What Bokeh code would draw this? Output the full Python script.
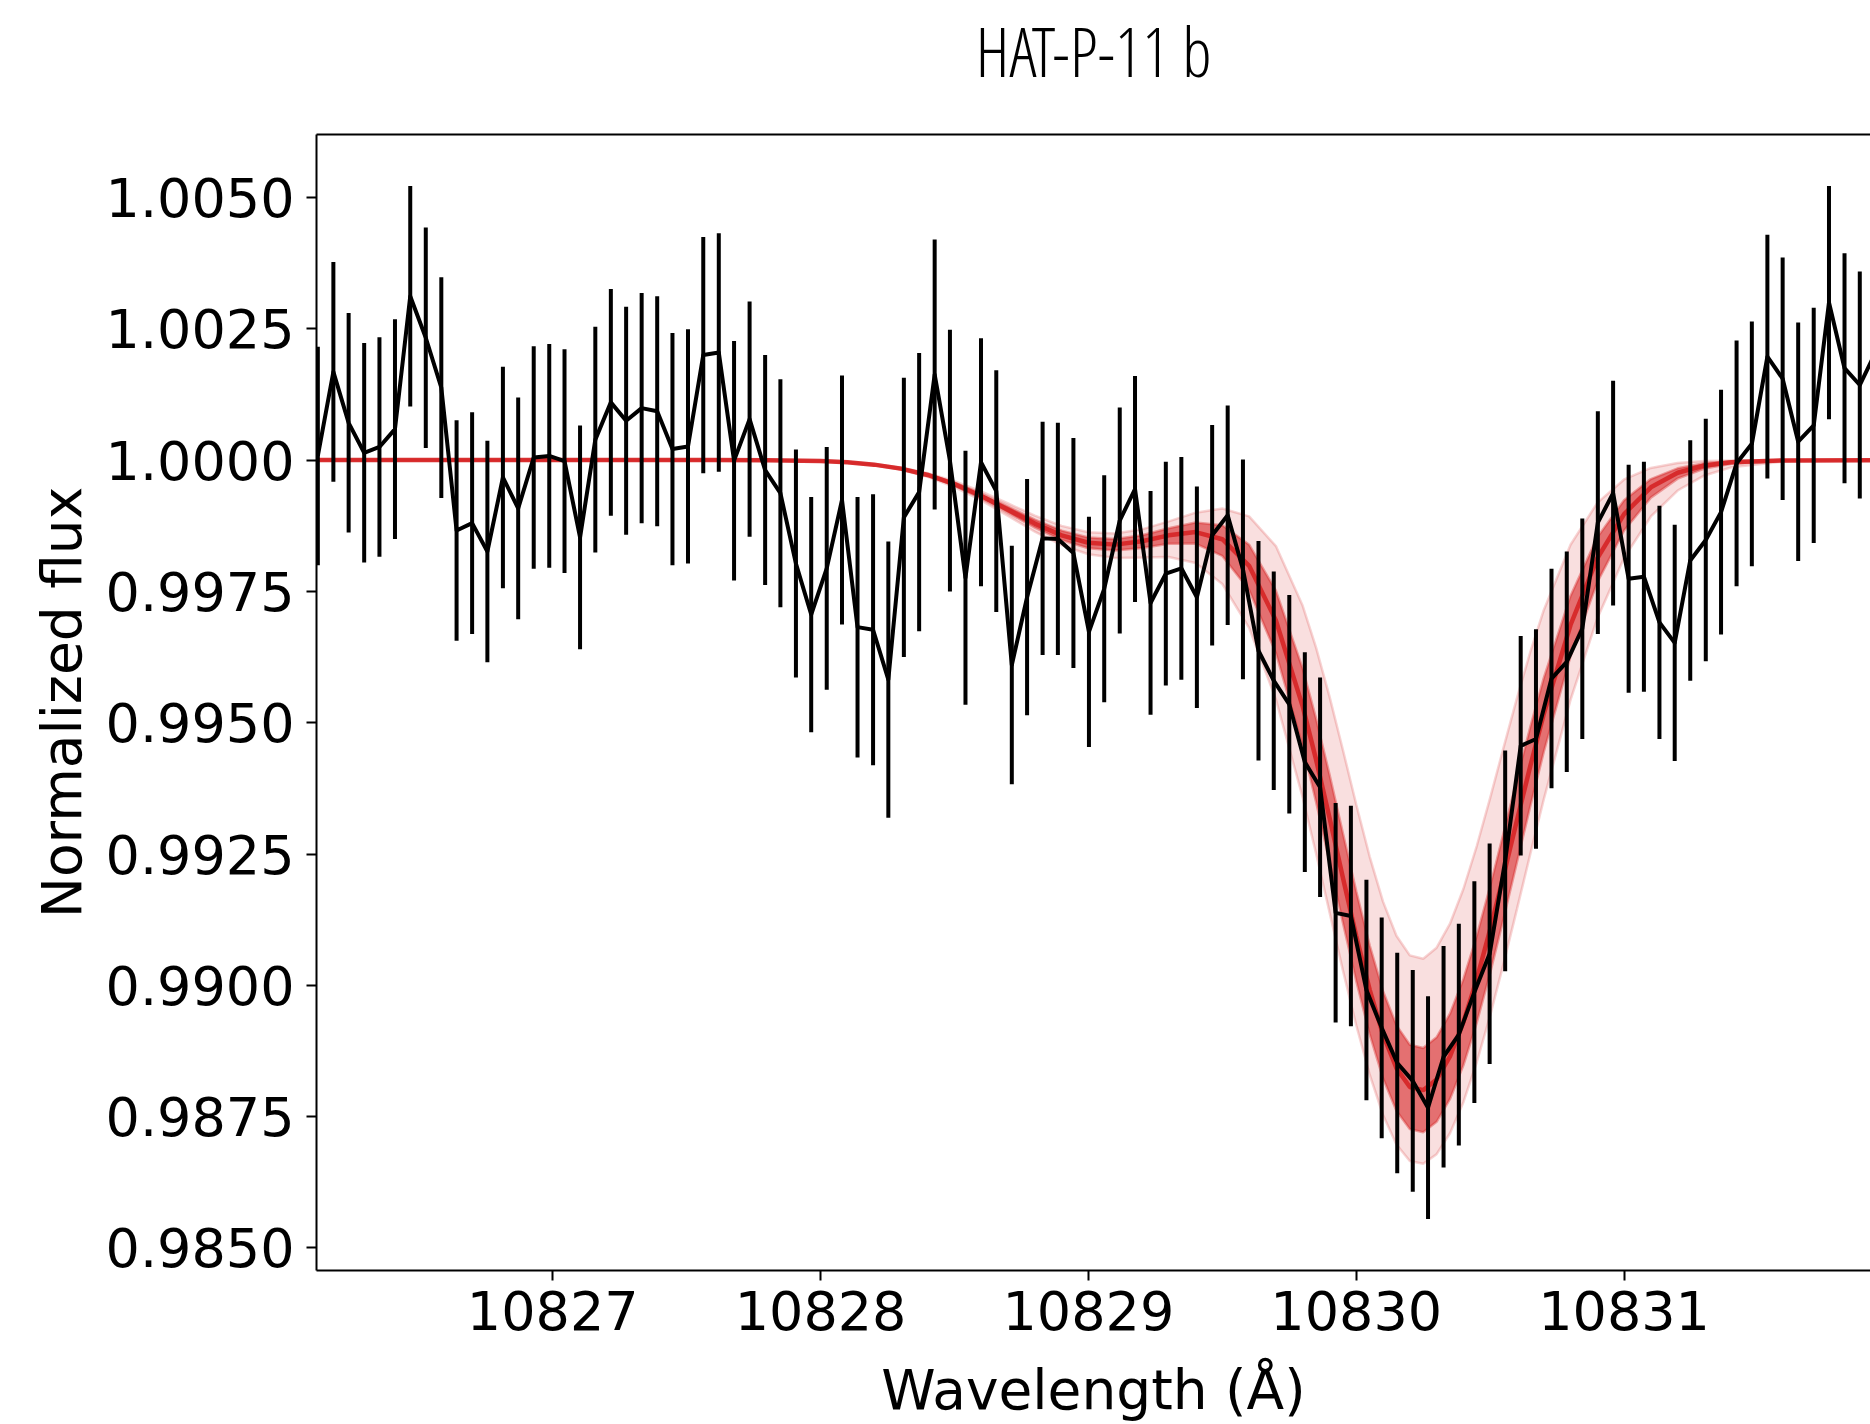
from bokeh.plotting import figure
from bokeh.models import ColumnDataSource, FixedTicker, PrintfTickFormatter, LinearAxis, Range1d
from bokeh.embed import file_html
from bokeh.resources import INLINE

# ---------------- data ----------------
wavelength = [
    10826.123, 10826.181, 10826.238, 10826.296, 10826.353, 10826.411, 10826.468, 10826.526, 10826.584, 10826.641,
    10826.699, 10826.756, 10826.814, 10826.871, 10826.929, 10826.987, 10827.044, 10827.102, 10827.159, 10827.217,
    10827.274, 10827.332, 10827.390, 10827.447, 10827.505, 10827.562, 10827.620, 10827.677, 10827.735, 10827.793,
    10827.850, 10827.908, 10827.965, 10828.023, 10828.080, 10828.138, 10828.196, 10828.253, 10828.311, 10828.368,
    10828.426, 10828.483, 10828.541, 10828.599, 10828.656, 10828.714, 10828.771, 10828.829, 10828.886, 10828.944,
    10829.002, 10829.059, 10829.117, 10829.174, 10829.232, 10829.289, 10829.347, 10829.405, 10829.462, 10829.520,
    10829.577, 10829.635, 10829.692, 10829.750, 10829.808, 10829.865, 10829.923, 10829.980, 10830.038, 10830.095,
    10830.153, 10830.211, 10830.268, 10830.326, 10830.383, 10830.441, 10830.498, 10830.556, 10830.614, 10830.671,
    10830.729, 10830.786, 10830.844, 10830.902, 10830.959, 10831.017, 10831.074, 10831.132, 10831.189, 10831.247,
    10831.305, 10831.362, 10831.420, 10831.477, 10831.535, 10831.592, 10831.650, 10831.708, 10831.765, 10831.823,
    10831.880, 10831.938,
]
flux = [
    1.00008, 1.00168, 1.00071, 1.00014, 1.00025, 1.00059, 1.00312, 1.00233, 1.00138, 0.99866,
    0.99880, 0.99826, 0.99967, 0.99908, 1.00005, 1.00008, 0.99998, 0.99853, 1.00039, 1.00110,
    1.00075, 1.00099, 1.00093, 1.00021, 1.00026, 1.00200, 1.00205, 0.99999, 1.00078, 0.99981,
    0.99937, 0.99803, 0.99706, 0.99794, 0.99924, 0.99682, 0.99677, 0.99582, 0.99891, 0.99939,
    1.00163, 0.99999, 0.99776, 0.99996, 0.99941, 0.99610, 0.99739, 0.99851, 0.99850, 0.99823,
    0.99673, 0.99755, 0.99885, 0.99945, 0.99728, 0.99784, 0.99794, 0.99739, 0.99857, 0.99895,
    0.99792, 0.99637, 0.99580, 0.99535, 0.99425, 0.99377, 0.99138, 0.99132, 0.98991, 0.98919,
    0.98852, 0.98818, 0.98767, 0.98864, 0.98906, 0.98987, 0.99060, 0.99237, 0.99456, 0.99469,
    0.99584, 0.99616, 0.99679, 0.99881, 0.99937, 0.99774, 0.99778, 0.99691, 0.99652, 0.99809,
    0.99848, 0.99901, 0.99994, 1.00031, 1.00197, 1.00155, 1.00035, 1.00066, 1.00300, 1.00175,
    1.00143, 1.00204,
]
flux_err = [
    0.00208, 0.00209, 0.00209, 0.00209, 0.00209, 0.00209, 0.00210, 0.00210, 0.00210, 0.00210,
    0.00211, 0.00211, 0.00211, 0.00211, 0.00212, 0.00213, 0.00213, 0.00213, 0.00215, 0.00216,
    0.00217, 0.00219, 0.00219, 0.00221, 0.00223, 0.00225, 0.00227, 0.00228, 0.00224, 0.00219,
    0.00217, 0.00217, 0.00224, 0.00231, 0.00237, 0.00248, 0.00258, 0.00263, 0.00266, 0.00265,
    0.00257, 0.00249, 0.00242, 0.00236, 0.00230, 0.00227, 0.00225, 0.00222, 0.00221, 0.00219,
    0.00219, 0.00216, 0.00215, 0.00215, 0.00213, 0.00213, 0.00212, 0.00211, 0.00210, 0.00209,
    0.00209, 0.00209, 0.00208, 0.00208, 0.00209, 0.00209, 0.00209, 0.00210, 0.00210, 0.00210,
    0.00210, 0.00211, 0.00212, 0.00211, 0.00211, 0.00211, 0.00210, 0.00210, 0.00209, 0.00209,
    0.00209, 0.00210, 0.00210, 0.00212, 0.00214, 0.00217, 0.00219, 0.00222, 0.00225, 0.00229,
    0.00231, 0.00233, 0.00234, 0.00233, 0.00232, 0.00231, 0.00227, 0.00224, 0.00222, 0.00219,
    0.00216, 0.00214,
]

# model band (posterior samples), read as median / inner / outer envelopes
model_wavelength = [
    10826.10, 10827.60, 10827.80, 10828.00, 10828.10, 10828.20, 10828.30, 10828.40, 10828.50, 10828.60,
    10828.70, 10828.80, 10828.90, 10829.00, 10829.10, 10829.20, 10829.30, 10829.40, 10829.50, 10829.60,
    10829.70, 10829.80, 10829.85, 10829.90, 10829.95, 10830.00, 10830.05, 10830.10, 10830.15, 10830.20,
    10830.25, 10830.30, 10830.35, 10830.40, 10830.45, 10830.50, 10830.55, 10830.60, 10830.65, 10830.70,
    10830.80, 10830.90, 10831.00, 10831.10, 10831.20, 10831.30, 10831.40, 10831.60, 10831.95,
]
model_median = [
    1.0, 1.0, 0.999997, 0.999981, 0.999958, 0.999914, 0.999838, 0.999717, 0.999543, 0.999318,
    0.999056, 0.998792, 0.998568, 0.998426, 0.998391, 0.998455, 0.998568, 0.998630, 0.998494, 0.997987,
    0.996947, 0.995311, 0.994297, 0.993195, 0.992055, 0.990939, 0.989918, 0.989059, 0.988424, 0.988064,
    0.988004, 0.988206, 0.988648, 0.989297, 0.990118, 0.991066, 0.992091, 0.993143, 0.994179, 0.995162,
    0.996861, 0.998128, 0.998973, 0.999482, 0.999760, 0.999898, 0.999960, 0.999995, 1.0,
]
model_outer_hi = [
    1.0, 1.0, 0.999997, 0.999983, 0.999963, 0.999925, 0.999858, 0.999752, 0.999600, 0.999403,
    0.999174, 0.998943, 0.998748, 0.998626, 0.998604, 0.998682, 0.998834, 0.999000, 0.999080, 0.998929,
    0.998363, 0.997226, 0.996429, 0.995502, 0.994486, 0.993444, 0.992452, 0.991593, 0.990943, 0.990570,
    0.990506, 0.990716, 0.991173, 0.991834, 0.992652, 0.993569, 0.994526, 0.995468, 0.996351, 0.997142,
    0.998388, 0.999186, 0.999632, 0.999851, 0.999946, 0.999983, 0.999995, 1.0, 1.0,
]
model_outer_lo = [
    1.0, 1.0, 0.999996, 0.999978, 0.999952, 0.999903, 0.999817, 0.999682, 0.999486, 0.999233,
    0.998937, 0.998638, 0.998381, 0.998207, 0.998137, 0.998145, 0.998154, 0.998040, 0.997641, 0.996806,
    0.995445, 0.993578, 0.992510, 0.991398, 0.990289, 0.989239, 0.988302, 0.987531, 0.986968, 0.986654,
    0.986602, 0.986785, 0.987184, 0.987775, 0.988535, 0.989426, 0.990412, 0.991451, 0.992504, 0.993539,
    0.995435, 0.996985, 0.998139, 0.998927, 0.999421, 0.999708, 0.999862, 0.999975, 0.999999,
]
model_inner_hi = [
    1.0, 1.0, 0.999997, 0.999982, 0.999960, 0.999919, 0.999848, 0.999735, 0.999572, 0.999361,
    0.999115, 0.998868, 0.998658, 0.998526, 0.998499, 0.998571, 0.998703, 0.998811, 0.998762, 0.998389,
    0.997513, 0.996031, 0.995077, 0.994016, 0.992899, 0.991791, 0.990761, 0.989888, 0.989238, 0.988867,
    0.988805, 0.989011, 0.989460, 0.990116, 0.990941, 0.991887, 0.992898, 0.993925, 0.994921, 0.995849,
    0.997414, 0.998529, 0.999237, 0.999639, 0.999844, 0.999939, 0.999978, 0.999998, 1.0,
]
model_inner_lo = [
    1.0, 1.0, 0.999997, 0.999979, 0.999955, 0.999908, 0.999827, 0.999699, 0.999514, 0.999275,
    0.998997, 0.998715, 0.998477, 0.998323, 0.998277, 0.998327, 0.998409, 0.998411, 0.998175, 0.997527,
    0.996330, 0.994556, 0.993491, 0.992355, 0.991198, 0.990082, 0.989072, 0.988229, 0.987610, 0.987262,
    0.987203, 0.987402, 0.987836, 0.988476, 0.989290, 0.990237, 0.991272, 0.992344, 0.993413, 0.994442,
    0.996265, 0.997676, 0.998661, 0.999286, 0.999648, 0.999839, 0.999932, 0.999990, 1.0,
]

x_ticks = [10827, 10828, 10829, 10830, 10831]
y_ticks = [0.9850, 0.9875, 0.9900, 0.9925, 0.9950, 0.9975, 1.0000, 1.0025, 1.0050]

title_text = "HAT-P-11 b"
x_label = "Wavelength (Å)"
y_label = "Normalized flux"

RED = "#d62728"
FONT = "DejaVu Sans"
TITLE_FONT = ("Liberation Sans Narrow, Open Sans Condensed Light, Noto Sans Condensed, "
              "Open Sans Condensed, Roboto Condensed, DejaVu Sans Condensed, Roboto, sans-serif")

# ---------------- figure ----------------
p = figure(width=1870, height=1424, output_backend="svg", toolbar_location=None,
           x_range=Range1d(10826.118, 10831.920), y_range=Range1d(0.98457, 1.00620),
           min_border_left=316, min_border_right=0, min_border_top=134, min_border_bottom=152,
           background_fill_color="white", border_fill_color="white")
p.outline_line_color = None
p.xgrid.visible = False
p.ygrid.visible = False

for ax in (p.xaxis[0], p.yaxis[0]):
    ax.axis_line_width = 2
    ax.major_tick_line_width = 2
    ax.major_tick_out = 10
    ax.major_tick_in = 0
    ax.minor_tick_line_color = None
    ax.major_label_text_font = FONT
    ax.major_label_text_font_size = "54px"
    ax.major_label_text_color = "black"
    ax.axis_label_text_font = FONT
    ax.axis_label_text_font_size = "55px"
    ax.axis_label_text_font_style = "normal"
    ax.axis_label_text_color = "black"

p.xaxis.ticker = FixedTicker(ticks=x_ticks)
p.xaxis.formatter = PrintfTickFormatter(format="%d")
p.xaxis.axis_label = x_label
p.xaxis.major_label_standoff = 10
p.xaxis.axis_label_standoff = 25

p.yaxis.ticker = FixedTicker(ticks=y_ticks)
p.yaxis.formatter = PrintfTickFormatter(format="%.4f")
p.yaxis.axis_label = y_label
p.yaxis.major_label_standoff = 12
p.yaxis.axis_label_standoff = 9

# top spine, carrying the chart title as its label
top_axis = LinearAxis(ticker=FixedTicker(ticks=[]), axis_line_width=2,
                      major_tick_line_color=None, minor_tick_line_color=None,
                      major_label_text_font_size="0px",
                      axis_label=title_text, axis_label_standoff=38,
                      axis_label_text_font=TITLE_FONT, axis_label_text_font_size="68px",
                      axis_label_text_font_style="normal", axis_label_text_color="black")
p.add_layout(top_axis, "above")

# ---------------- model band ----------------
msrc = ColumnDataSource(dict(x=model_wavelength, med=model_median,
                             ohi=model_outer_hi, olo=model_outer_lo,
                             ihi=model_inner_hi, ilo=model_inner_lo))
p.varea(x="x", y1="olo", y2="ohi", source=msrc, fill_color=RED, fill_alpha=0.15)
p.varea(x="x", y1="ilo", y2="ihi", source=msrc, fill_color=RED, fill_alpha=0.6)
for col, a in (("ohi", 0.2), ("olo", 0.2), ("ihi", 0.4), ("ilo", 0.4)):
    p.line(x="x", y=col, source=msrc, line_color=RED, line_alpha=a, line_width=2.5)
p.line(x="x", y="med", source=msrc, line_color=RED, line_alpha=0.95, line_width=4.5)

# ---------------- data ----------------
lower = [f - e for f, e in zip(flux, flux_err)]
upper = [f + e for f, e in zip(flux, flux_err)]
dsrc = ColumnDataSource(dict(x=wavelength, y=flux, lo=lower, hi=upper))
p.segment(x0="x", y0="lo", x1="x", y1="hi", source=dsrc, line_color="black", line_width=4)
p.line(x="x", y="y", source=dsrc, line_color="black", line_width=4, line_join="round")

open("out.html", "w").write(file_html(p, INLINE))
